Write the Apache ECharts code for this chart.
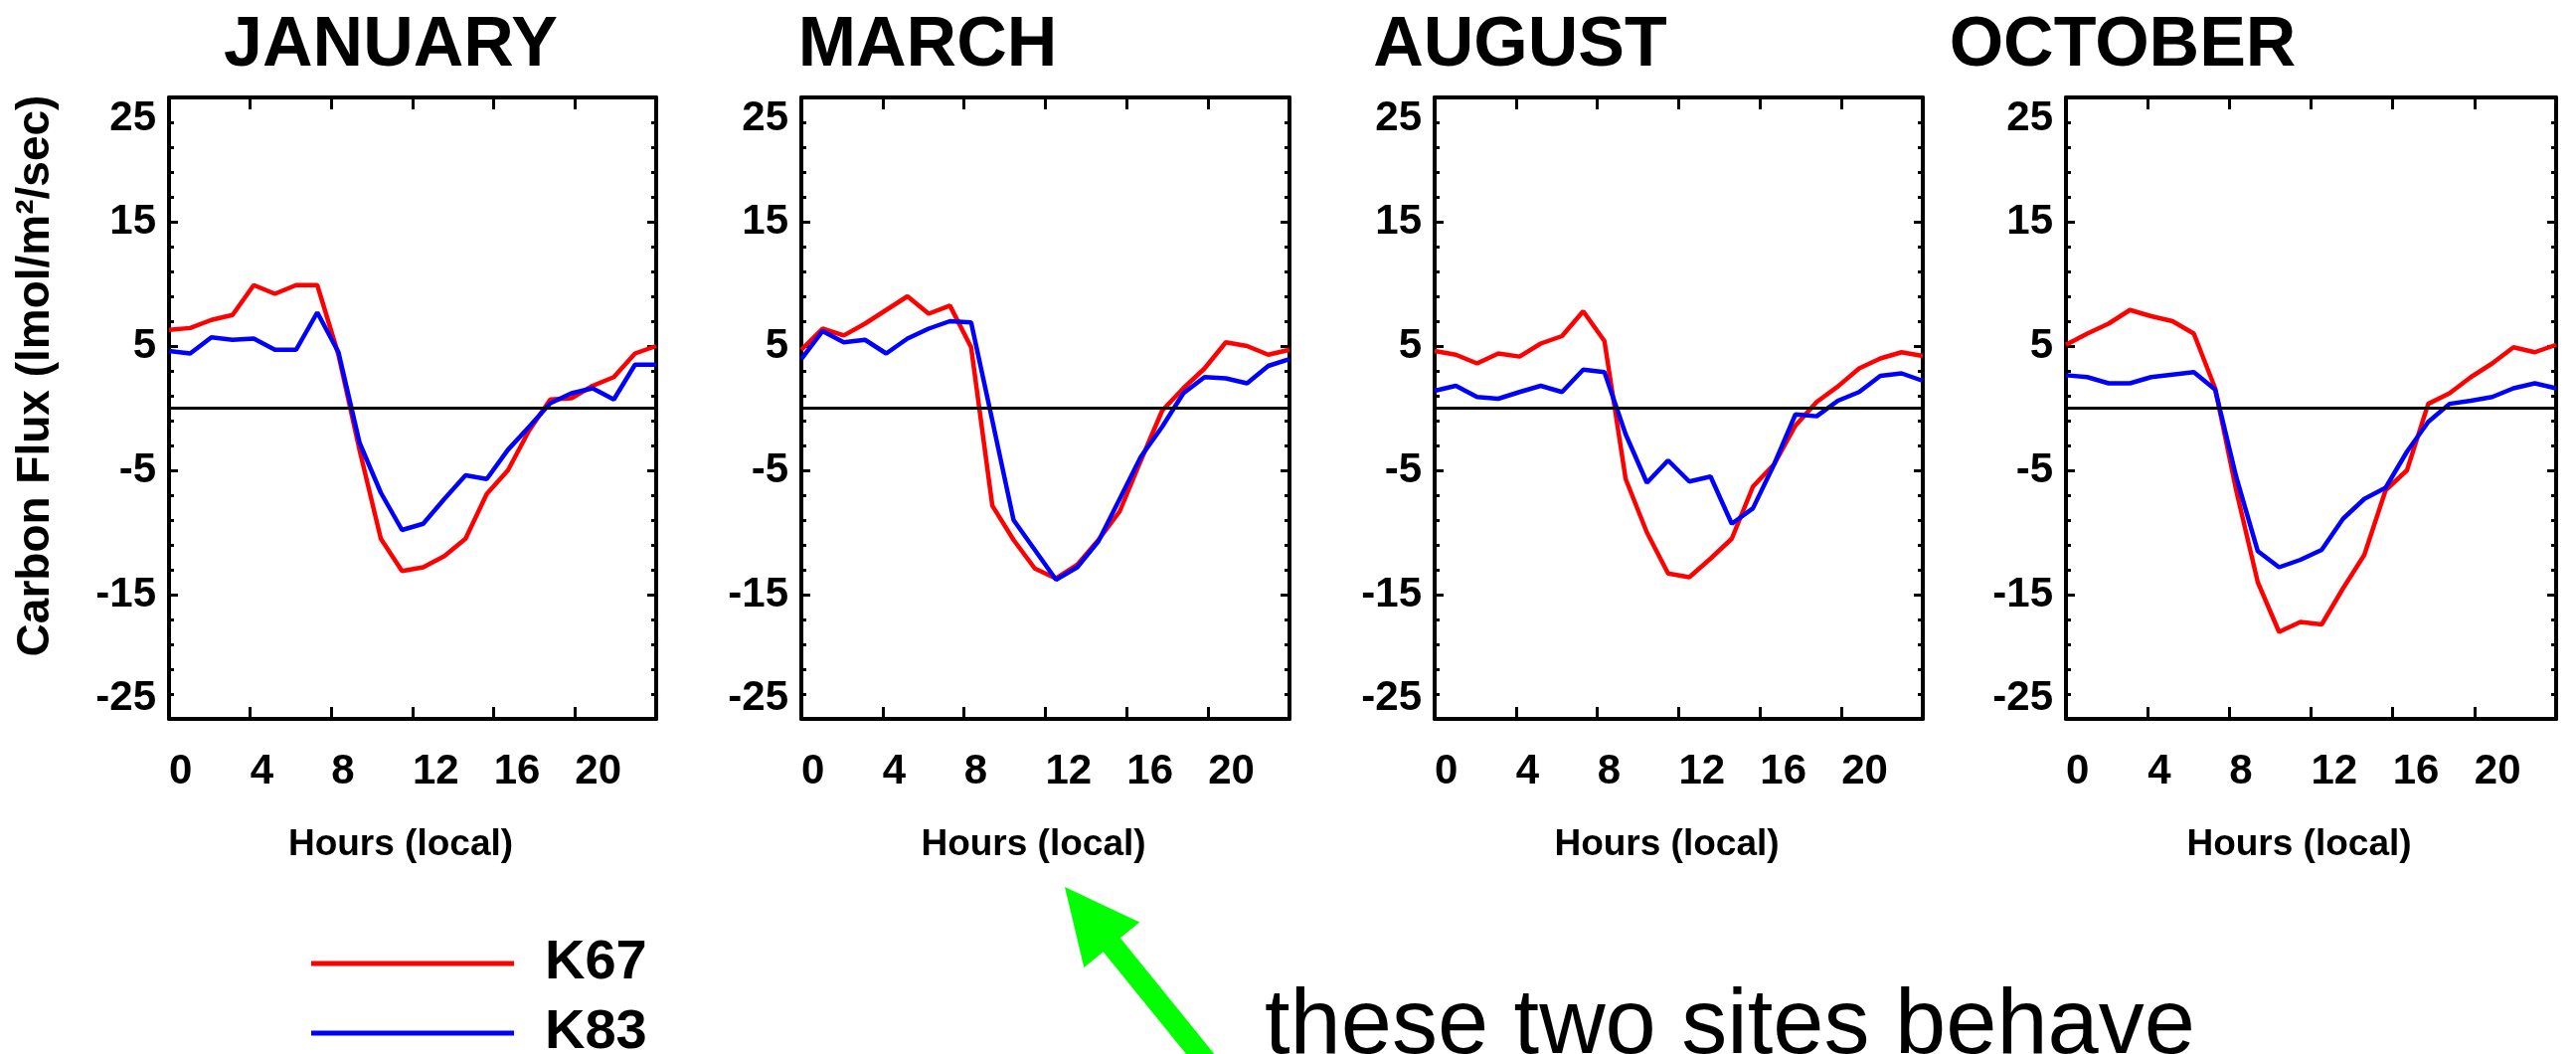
<!DOCTYPE html>
<html>
<head>
<meta charset="utf-8">
<title>Carbon Flux diurnal cycle</title>
<script src="https://cdn.jsdelivr.net/npm/echarts@6/dist/echarts.min.js"></script>
<style>
  html, body { margin: 0; padding: 0; background: #ffffff; }
  #chart { width: 2591px; height: 1060px; }
</style>
</head>
<body>
<div id="chart"></div>
<script>
// Local hour of each mean value
const hours = [0, 1, 2, 3, 4, 5, 6, 7, 8, 9, 10, 11, 12, 13, 14, 15, 16, 17, 18, 19, 20, 21, 22, 23];

// Panel titles
const months = ['JANUARY', 'MARCH', 'AUGUST', 'OCTOBER'];

// Site names
const sites = ['K67', 'K83'];

// Mean diurnal carbon flux, site K67
const k67Jan = [6.3, 6.45, 7.1, 7.5, 9.9, 9.2, 9.9, 9.9, 4.3, -3.4, -10.5, -13.1, -12.8, -11.9, -10.5, -6.9, -5.0, -1.8, 0.7, 0.8, 1.8, 2.5, 4.4, 5.0];
const k67Mar = [4.7, 6.4, 5.85, 6.8, 7.9, 9.0, 7.6, 8.25, 4.9, -7.85, -10.6, -12.9, -13.7, -12.6, -10.6, -8.3, -4.2, -0.2, 1.6, 3.2, 5.3, 5.0, 4.3, 4.7];
const k67Aug = [4.6, 4.3, 3.6, 4.4, 4.15, 5.2, 5.8, 7.8, 5.4, -5.7, -10.0, -13.3, -13.6, -12.1, -10.5, -6.3, -4.5, -1.4, 0.5, 1.75, 3.2, 4.0, 4.5, 4.2];
const k67Oct = [5.1, 6.0, 6.8, 7.9, 7.4, 7.0, 6.0, 1.6, -6.7, -14.0, -18.0, -17.2, -17.4, -14.5, -11.8, -6.6, -5.0, 0.35, 1.2, 2.5, 3.6, 4.9, 4.5, 5.1];

// Mean diurnal carbon flux, site K83
const k83Jan = [4.6, 4.4, 5.7, 5.5, 5.6, 4.7, 4.7, 7.7, 4.5, -2.8, -6.8, -9.8, -9.3, -7.3, -5.4, -5.7, -3.35, -1.5, 0.4, 1.2, 1.6, 0.7, 3.5, 3.5];
const k83Mar = [3.95, 6.2, 5.3, 5.5, 4.4, 5.6, 6.4, 7.0, 6.9, -1.0, -9.0, -11.4, -13.8, -12.8, -10.7, -7.3, -3.9, -1.5, 1.2, 2.5, 2.4, 2.0, 3.4, 3.95];
const k83Aug = [1.4, 1.8, 0.9, 0.76, 1.3, 1.8, 1.3, 3.1, 2.9, -2.1, -6.0, -4.2, -5.9, -5.5, -9.3, -8.05, -4.5, -0.5, -0.65, 0.6, 1.3, 2.6, 2.8, 2.2];
const k83Oct = [2.65, 2.5, 2.0, 2.0, 2.5, 2.7, 2.9, 1.5, -5.6, -11.5, -12.8, -12.2, -11.4, -8.9, -7.3, -6.4, -3.5, -1.1, 0.35, 0.6, 0.9, 1.6, 2.0, 1.6];

// Axis ticks
const hourTicks = [0, 4, 8, 12, 16, 20];
const fluxTicks = [-25, -15, -5, 5, 15, 25];

const k67ByMonth = [k67Jan, k67Mar, k67Aug, k67Oct];
const k83ByMonth = [k83Jan, k83Mar, k83Aug, k83Oct];

const FONT = "'Liberation Sans', Arial, Helvetica, sans-serif";
const RED = '#ff0000';
const BLUE = '#0000ff';
const BLACK = '#000000';

// Panel frames in page pixels
const panels = [
  { left: 170, width: 490, titleX: 393 },
  { left: 806, width: 491, titleX: 933 },
  { left: 1443, width: 491, titleX: 1529 },
  { left: 2078, width: 493, titleX: 2135 }
];
const PANEL_TOP = 98;
const PANEL_HEIGHT = 625;

const grids = [];
const xAxes = [];
const yAxes = [];
const series = [];

const frameLine = { show: true, onZero: false, lineStyle: { color: BLACK, width: 4 } };

panels.forEach((p, i) => {
  grids.push({ left: p.left, top: PANEL_TOP, width: p.width, height: PANEL_HEIGHT, containLabel: false });

  // bottom hour axis with labels
  xAxes.push({
    type: 'value', gridIndex: i, position: 'bottom', min: 0, max: 24, interval: 4,
    axisLine: frameLine,
    axisTick: { show: true, inside: true, length: 12, lineStyle: { color: BLACK, width: 3 } },
    axisLabel: {
      show: true, align: 'left', margin: 32, color: BLACK,
      fontFamily: FONT, fontWeight: 'bold', fontSize: 42,
      formatter: v => (hourTicks.indexOf(v) >= 0 ? String(v) : '')
    },
    splitLine: { show: false },
    name: 'Hours (local)', nameLocation: 'middle', nameGap: 108,
    nameTextStyle: { fontFamily: FONT, fontWeight: 'bold', fontSize: 37, color: BLACK, padding: [0, 24, 0, 0] }
  });
  // top frame with ticks
  xAxes.push({
    type: 'value', gridIndex: i, position: 'top', min: 0, max: 24, interval: 4,
    axisLine: frameLine,
    axisTick: { show: true, inside: true, length: 12, lineStyle: { color: BLACK, width: 3 } },
    axisLabel: { show: false },
    splitLine: { show: false }
  });
  // hourly sample axis for the curves
  xAxes.push({
    type: 'value', gridIndex: i, position: 'bottom', min: hours[0], max: hours[hours.length - 1],
    show: false
  });

  // left flux axis with labels
  yAxes.push({
    type: 'value', gridIndex: i, position: 'left', min: -25, max: 25, interval: 10,
    axisLine: frameLine,
    axisTick: { show: true, inside: true, length: 9, lineStyle: { color: BLACK, width: 3 } },
    minorTick: { show: true, splitNumber: 5, length: 5, lineStyle: { color: BLACK, width: 3 } },
    axisLabel: {
      show: true, margin: 13, color: BLACK,
      fontFamily: FONT, fontWeight: 'bold', fontSize: 42,
      verticalAlignMaxLabel: 'top', verticalAlignMinLabel: 'bottom',
      formatter: v => (fluxTicks.indexOf(v) >= 0 ? String(v) : '')
    },
    splitLine: { show: false }, minorSplitLine: { show: false }
  });
  // right frame with ticks
  yAxes.push({
    type: 'value', gridIndex: i, position: 'right', min: -25, max: 25, interval: 10,
    axisLine: frameLine,
    axisTick: { show: true, inside: true, length: 9, lineStyle: { color: BLACK, width: 3 } },
    minorTick: { show: true, splitNumber: 5, length: 5, lineStyle: { color: BLACK, width: 3 } },
    axisLabel: { show: false },
    splitLine: { show: false }, minorSplitLine: { show: false }
  });

  const dataX = 3 * i + 2;
  const leftY = 2 * i;

  series.push({
    name: sites[0], type: 'line', xAxisIndex: dataX, yAxisIndex: leftY,
    data: hours.map((h, j) => [h, k67ByMonth[i][j]]),
    showSymbol: false, symbol: 'none', smooth: false,
    lineStyle: { color: RED, width: 4.5 }, itemStyle: { color: RED },
    z: 3,
    markLine: {
      silent: true, symbol: ['none', 'none'], label: { show: false },
      lineStyle: { color: BLACK, width: 3, type: 'solid' },
      emphasis: { disabled: true },
      data: [{ yAxis: 0 }]
    }
  });
  series.push({
    name: sites[1], type: 'line', xAxisIndex: dataX, yAxisIndex: leftY,
    data: hours.map((h, j) => [h, k83ByMonth[i][j]]),
    showSymbol: false, symbol: 'none', smooth: false,
    lineStyle: { color: BLUE, width: 4.5 }, itemStyle: { color: BLUE },
    z: 4
  });
});

// Arrow pointing at the March panel
const tip = [1071, 892];
const dir = [0.63, 0.777];
const perp = [0.777, -0.63];
const headLen = 75, headHalf = 36, shaftHalf = 11, shaftLen = 270;
const at = (t, s) => [tip[0] + t * dir[0] + s * perp[0], tip[1] + t * dir[1] + s * perp[1]];
const arrowPoints = [
  at(0, 0),
  at(headLen, headHalf),
  at(headLen, shaftHalf),
  at(shaftLen, shaftHalf),
  at(shaftLen, -shaftHalf),
  at(headLen, -shaftHalf),
  at(headLen, -headHalf)
];

const graphics = [];
panels.forEach((p, i) => {
  graphics.push({
    type: 'text', x: p.titleX, y: 47, z: 10,
    style: {
      text: months[i], fill: BLACK, fontFamily: FONT, fontWeight: 'bold', fontSize: 70,
      align: 'center', verticalAlign: 'middle'
    }
  });
});
graphics.push({
  type: 'text', x: 36, y: 378, rotation: Math.PI / 2, z: 10,
  style: {
    text: 'Carbon Flux (lmol/m\u00B2/sec)', fill: BLACK, fontFamily: FONT, fontWeight: 'bold', fontSize: 46,
    align: 'center', verticalAlign: 'middle'
  }
});
graphics.push({
  type: 'polygon', z: 10,
  shape: { points: arrowPoints },
  style: { fill: '#00ff00', stroke: null }
});
graphics.push({
  type: 'text', x: 1272, y: 1034, z: 10,
  style: {
    text: 'these two sites behave', fill: BLACK, fontFamily: FONT, fontWeight: 'normal', fontSize: 92,
    align: 'left', verticalAlign: 'middle'
  }
});

// One legend block per site, stacked
const legendBase = {
  orient: 'vertical', left: 313, padding: 0,
  icon: 'rect', itemWidth: 204, itemHeight: 5,
  selectedMode: false,
  textStyle: { fontFamily: FONT, fontWeight: 'bold', fontSize: 56, color: BLACK, lineHeight: 40, padding: [0, 0, 0, 26] }
};

const chart = echarts.init(document.getElementById('chart'), null, { renderer: 'canvas' });
chart.setOption({
  animation: false,
  backgroundColor: '#ffffff',
  grid: grids,
  xAxis: xAxes,
  yAxis: yAxes,
  series: series,
  legend: [
    Object.assign({}, legendBase, { data: [sites[0]], top: 941 }),
    Object.assign({}, legendBase, { data: [sites[1]], top: 1011 })
  ],
  graphic: graphics
});
</script>
</body>
</html>
